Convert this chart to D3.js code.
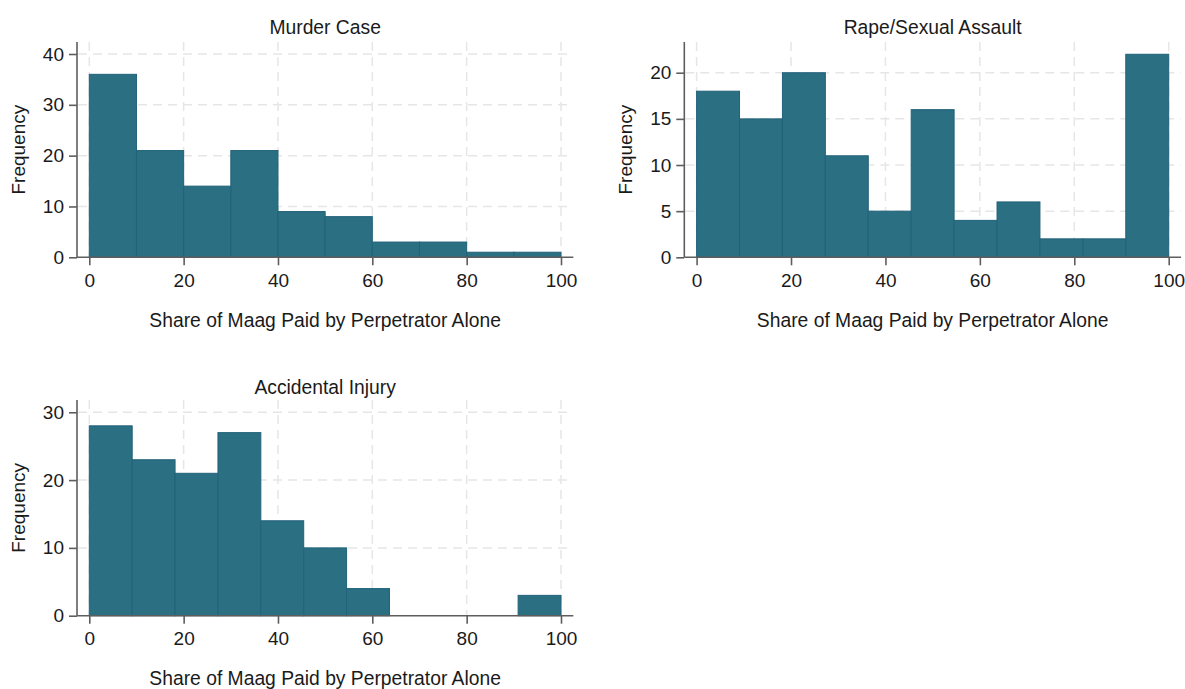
<!DOCTYPE html>
<html>
<head>
<meta charset="utf-8">
<script src="https://cdn.jsdelivr.net/npm/d3@7"></script>
<style>
  html, body { margin: 0; padding: 0; background: #ffffff; }
  svg { display: block; }
  text { font-family: Arial, "Liberation Sans", sans-serif; fill: #1a1a1a; }
</style>
</head>
<body>
<script>
// ---- Data ----
const panelTitles = ["Murder Case", "Rape/Sexual Assault", "Accidental Injury"];
const murderCounts = [36, 21, 14, 21, 9, 8, 3, 3, 1, 1];
const rapeCounts = [18, 15, 20, 11, 5, 16, 4, 6, 2, 2, 22];
const accidentCounts = [28, 23, 21, 27, 14, 10, 4, 0, 0, 0, 3];
const xTicks = [0, 20, 40, 60, 80, 100];
const murderYTicks = [0, 10, 20, 30, 40];
const rapeYTicks = [0, 5, 10, 15, 20];
const accidentYTicks = [0, 10, 20, 30];
const yAxisMax = [42.36, 23.33, 31.81];
const xLabel = "Share of Maag Paid by Perpetrator Alone";
const yLabel = "Frequency";

const W = 1185, H = 689;
const svg = d3.select("body").append("svg").attr("width", W).attr("height", H);

const panels = [
  { title: panelTitles[0], counts: murderCounts, yTicks: murderYTicks, ymax: yAxisMax[0],
    left: 77, right: 573.3, top: 42, bottom: 257.3, titleY: 34.3 },
  { title: panelTitles[1], counts: rapeCounts, yTicks: rapeYTicks, ymax: yAxisMax[1],
    left: 684.3, right: 1181, top: 42, bottom: 257.3, titleY: 34.3 },
  { title: panelTitles[2], counts: accidentCounts, yTicks: accidentYTicks, ymax: yAxisMax[2],
    left: 77, right: 573.3, top: 400, bottom: 615.7, titleY: 393.5 }
];

const barFill = "#2b6f83";
const barStroke = "#22627a";
const gridColor = "#e6e6e6";
const axisColor = "#5e5e5e";
const tickSize = 19;
const titleSize = 19.3;
const xLabelSize = 19.3;
const yLabelSize = 19;

panels.forEach(p => {
  const g = svg.append("g");
  const pad = 12.3;
  const x = d3.scaleLinear().domain([0, 100]).range([p.left + pad, p.right - pad]);
  const y = d3.scaleLinear().domain([0, p.ymax]).range([p.bottom, p.top]);

  // grid lines
  g.append("g").selectAll("line.hg")
    .data(p.yTicks.filter(t => t !== 0))
    .join("line")
    .attr("x1", p.left + 1).attr("x2", p.right)
    .attr("y1", d => y(d)).attr("y2", d => y(d))
    .attr("stroke", gridColor).attr("stroke-width", 1.5)
    .attr("stroke-dasharray", "9,6");
  g.append("g").selectAll("line.vg")
    .data(xTicks)
    .join("line")
    .attr("x1", d => x(d)).attr("x2", d => x(d))
    .attr("y1", p.top).attr("y2", p.bottom)
    .attr("stroke", gridColor).attr("stroke-width", 1.5)
    .attr("stroke-dasharray", "9,6");

  // bars
  const n = p.counts.length;
  const bw = 100 / n;
  const bins = p.counts.map((c, i) => ({ x0: i * bw, x1: (i + 1) * bw, c }));
  g.append("g").selectAll("rect")
    .data(bins.filter(b => b.c > 0))
    .join("rect")
    .attr("x", d => x(d.x0))
    .attr("width", d => x(d.x1) - x(d.x0))
    .attr("y", d => y(d.c))
    .attr("height", d => y(0) - y(d.c))
    .attr("fill", barFill)
    .attr("stroke", barStroke)
    .attr("stroke-width", 1);

  // y axis
  const yAxis = d3.axisLeft(y).tickValues(p.yTicks).tickSize(8).tickPadding(5).tickFormat(d3.format("d"));
  const ya = g.append("g").attr("transform", `translate(${p.left},0)`).call(yAxis);
  ya.select(".domain").attr("d", `M0,${p.top}V${p.bottom}`).attr("stroke", axisColor).attr("stroke-width", 1.6);
  ya.selectAll(".tick line").attr("stroke", axisColor).attr("stroke-width", 1.6);
  ya.selectAll(".tick text").attr("font-size", tickSize).attr("fill", "#1a1a1a")
    .style("font-family", "Arial, 'Liberation Sans', sans-serif");

  // x axis
  const xAxis = d3.axisBottom(x).tickValues(xTicks).tickSize(8).tickPadding(8);
  const xa = g.append("g").attr("transform", `translate(0,${p.bottom})`).call(xAxis);
  xa.select(".domain").attr("d", `M${p.left},0H${p.right}`).attr("stroke", axisColor).attr("stroke-width", 1.6);
  xa.selectAll(".tick line").attr("stroke", axisColor).attr("stroke-width", 1.6);
  xa.selectAll(".tick text").attr("font-size", tickSize).attr("fill", "#1a1a1a")
    .style("font-family", "Arial, 'Liberation Sans', sans-serif");

  // title
  const cx = (p.left + p.right) / 2;
  g.append("text").attr("x", cx).attr("y", p.titleY)
    .attr("text-anchor", "middle").attr("font-size", titleSize).text(p.title);

  // x label
  g.append("text").attr("x", cx).attr("y", p.bottom + 69.7)
    .attr("text-anchor", "middle").attr("font-size", xLabelSize).text(xLabel);

  // y label
  const cy = (p.top + p.bottom) / 2;
  g.append("text")
    .attr("transform", `translate(${p.left - 52},${cy}) rotate(-90)`)
    .attr("text-anchor", "middle").attr("font-size", yLabelSize).text(yLabel);
});
</script>
</body>
</html>
